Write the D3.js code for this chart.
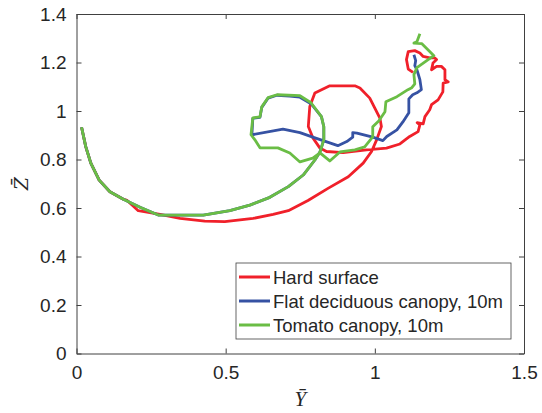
<!DOCTYPE html>
<html>
<head>
<meta charset="utf-8">
<script src="https://cdn.jsdelivr.net/npm/d3@7"></script>
<style>
  body { margin: 0; background: #fff; }
  text { font-family: "Liberation Sans", Arial, sans-serif; fill: #262626; }
</style>
</head>
<body>
<script>
// trajectories, [Ybar, Zbar] pairs
const hardSurface = [
  [0.017,0.933],[0.031,0.853],[0.048,0.785],[0.076,0.715],[0.112,0.667],[0.157,0.636],
  [0.168,0.633],[0.207,0.589],[0.280,0.574],[0.347,0.557],[0.430,0.546],[0.497,0.544],
  [0.592,0.557],[0.659,0.574],[0.710,0.589],[0.776,0.631],[0.843,0.681],[0.911,0.729],
  [0.961,0.785],[0.989,0.833],[1.006,0.881],[1.022,0.936],[1.017,0.971],[1.000,1.012],
  [0.983,1.053],[0.950,1.095],[0.933,1.104],[0.849,1.104],[0.799,1.074],[0.782,1.019],
  [0.777,0.936],[0.793,0.888],[0.816,0.847],[0.838,0.833],[0.894,0.828],[0.972,0.840],
  [1.039,0.847],[1.084,0.864],[1.117,0.895],[1.145,0.915],[1.151,0.943],[1.142,0.952],
  [1.162,0.947],[1.168,0.977],[1.184,1.005],[1.190,1.026],[1.212,1.046],[1.228,1.079],
  [1.229,1.115],[1.246,1.120],[1.235,1.129],[1.235,1.170],[1.223,1.184],[1.207,1.184],
  [1.190,1.170],[1.195,1.198],[1.207,1.212],[1.201,1.219],[1.184,1.219],[1.162,1.225],
  [1.151,1.239],[1.134,1.249],[1.112,1.245],[1.106,1.212],[1.112,1.173],[1.128,1.159]
];
const flatCanopy = [
  [0.017,0.933],[0.031,0.853],[0.048,0.785],[0.076,0.715],[0.112,0.667],[0.157,0.636],
  [0.213,0.603],[0.274,0.571],[0.425,0.571],[0.514,0.589],[0.581,0.612],[0.648,0.644],
  [0.710,0.688],[0.760,0.736],[0.799,0.798],[0.816,0.831],[0.829,0.881],[0.829,0.935],
  [0.821,0.977],[0.786,1.030],[0.749,1.057],[0.715,1.061],[0.672,1.065],[0.642,1.053],
  [0.621,1.015],[0.615,0.974],[0.591,0.970],[0.588,0.902],[0.692,0.925],[0.749,0.911],
  [0.792,0.892],[0.876,0.857],[0.906,0.874],[0.926,0.892],[0.926,0.911],[0.940,0.909],
  [0.993,0.892],[1.027,0.878],[1.040,0.895],[1.074,0.922],[1.094,0.955],[1.114,0.993],
  [1.114,1.050],[1.127,1.067],[1.141,1.075],[1.156,1.088],[1.151,1.129],[1.141,1.170],
  [1.134,1.187],[1.137,1.208],[1.131,1.232]
];
const tomatoCanopy = [
  [0.017,0.933],[0.031,0.853],[0.048,0.785],[0.076,0.715],[0.112,0.667],[0.157,0.636],
  [0.213,0.603],[0.274,0.571],[0.425,0.571],[0.514,0.589],[0.581,0.612],[0.648,0.644],
  [0.710,0.688],[0.760,0.736],[0.799,0.798],[0.816,0.831],[0.829,0.881],[0.829,0.935],
  [0.821,0.977],[0.786,1.034],[0.749,1.063],[0.672,1.067],[0.642,1.055],[0.621,1.017],
  [0.615,0.976],[0.591,0.972],[0.585,0.902],[0.598,0.881],[0.615,0.848],[0.675,0.848],
  [0.715,0.827],[0.749,0.790],[0.792,0.806],[0.816,0.827],[0.849,0.794],[0.883,0.831],
  [0.933,0.840],[0.966,0.852],[0.993,0.893],[0.993,0.935],[1.013,0.959],[1.034,0.997],
  [1.037,1.038],[1.074,1.059],[1.111,1.088],[1.124,1.096],[1.134,1.112],[1.131,1.150],
  [1.141,1.179],[1.174,1.208],[1.198,1.228],[1.157,1.278],[1.131,1.280],[1.141,1.286],
  [1.151,1.319]
];

const seriesNames = ["Hard surface", "Flat deciduous canopy, 10m", "Tomato canopy, 10m"];
const seriesColors = ["#f0202a", "#3652a3", "#6abd45"];
const xTicks = [0, 0.5, 1, 1.5];
const yTicks = [0, 0.2, 0.4, 0.6, 0.8, 1, 1.2, 1.4];

const width = 542;
const height = 413;
const margin = {top: 14, right: 18, bottom: 60, left: 76.5};

const svg = d3.select("body")
  .append("svg")
  .attr("width", width)
  .attr("height", height);

const x = d3.scaleLinear().domain([0, 1.5]).range([margin.left, width - margin.right]);
const y = d3.scaleLinear().domain([0, 1.4]).range([height - margin.bottom + 0.5, margin.top]);

const axisColor = "#404040";

// axes on all four sides, ticks pointing inward (matlab box style)
const styleAxis = g => {
  g.selectAll("path").attr("stroke", axisColor);
  g.selectAll("line").attr("stroke", axisColor);
  g.selectAll("text").attr("fill", "#262626").style("font-size", "19px")
    .style("font-family", "Liberation Sans, Arial, sans-serif");
};

svg.append("g")
  .attr("transform", `translate(0,${y(0)})`)
  .call(d3.axisBottom(x).tickValues(xTicks).tickSizeInner(-5).tickSizeOuter(0).tickPadding(12).tickFormat(d3.format("")))
  .call(styleAxis);
svg.append("g")
  .attr("transform", `translate(0,${y(1.4)})`)
  .call(d3.axisTop(x).tickValues(xTicks).tickSizeInner(-5).tickSizeOuter(0).tickFormat(""))
  .call(styleAxis);
svg.append("g")
  .attr("transform", `translate(${x(0)},0)`)
  .call(d3.axisLeft(y).tickValues(yTicks).tickSizeInner(-5).tickSizeOuter(0).tickPadding(10).tickFormat(d3.format("")))
  .call(styleAxis);
svg.append("g")
  .attr("transform", `translate(${x(1.5)},0)`)
  .call(d3.axisRight(y).tickValues(yTicks).tickSizeInner(-5).tickSizeOuter(0).tickFormat(""))
  .call(styleAxis);

// curves
const line = d3.line().x(d => x(d[0])).y(d => y(d[1]));
[hardSurface, flatCanopy, tomatoCanopy].forEach((data, i) => {
  svg.append("path")
    .datum(data)
    .attr("fill", "none")
    .attr("stroke", seriesColors[i])
    .attr("stroke-width", 2.8)
    .attr("stroke-linejoin", "round")
    .attr("d", line);
});

// legend
const lg = svg.append("g").attr("transform", "translate(236,263)");
lg.append("rect")
  .attr("width", 275).attr("height", 76)
  .attr("fill", "#fff").attr("stroke", axisColor).attr("stroke-width", 0.8);
seriesNames.forEach((name, i) => {
  const yy = 14 + i * 24;
  lg.append("line")
    .attr("x1", 3).attr("x2", 34).attr("y1", yy).attr("y2", yy)
    .attr("stroke", seriesColors[i]).attr("stroke-width", 3);
  lg.append("text")
    .attr("x", 37).attr("y", yy + 6.5)
    .style("font-size", "18.5px")
    .text(name);
});

// axis labels
svg.append("text")
  .attr("x", (x(0) + x(1.5)) / 2)
  .attr("y", 406)
  .attr("text-anchor", "middle")
  .style("font-family", "Liberation Serif, serif")
  .style("font-style", "italic")
  .style("font-size", "21px")
  .text("\u0232");

svg.append("text")
  .attr("transform", `translate(28,${(y(0) + y(1.4)) / 2}) rotate(-90)`)
  .attr("text-anchor", "middle")
  .style("font-family", "DejaVu Serif, serif")
  .style("font-style", "italic")
  .style("font-size", "19px")
  .text("Z\u0304");
</script>
</body>
</html>
